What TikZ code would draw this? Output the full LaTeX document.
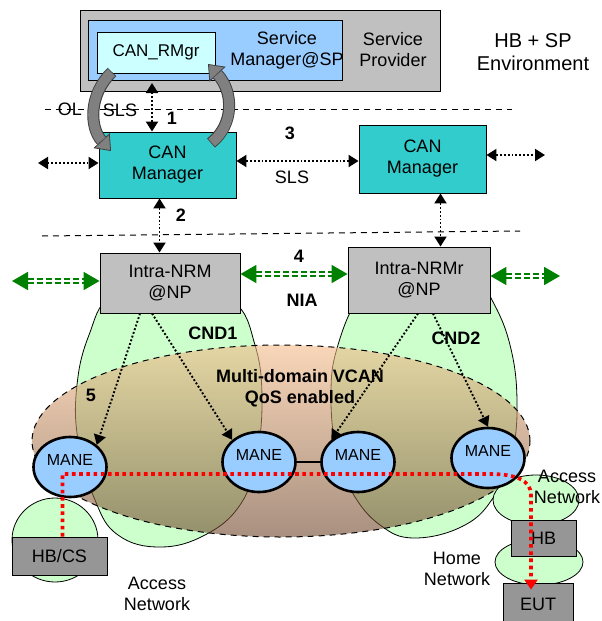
\documentclass[tikz,border=0pt]{standalone}
\usepackage{fontspec}
\setmainfont{Liberation Sans}
\usetikzlibrary{arrows.meta,shapes.geometric}

\definecolor{spgray}{HTML}{C0C0C0}
\definecolor{smblue}{HTML}{99CCFF}
\definecolor{rmcyan}{HTML}{CCFFFF}
\definecolor{canteal}{HTML}{33CCCC}
\definecolor{hbgray}{HTML}{969696}
\definecolor{cndgreen}{HTML}{CCFFCC}
\definecolor{niagreen}{HTML}{008000}
\definecolor{vcantop}{HTML}{F5BB89}
\definecolor{vcanbot}{HTML}{6E462B}

\begin{document}
\begin{tikzpicture}[x=1pt, y=-1pt, font=\fontsize{18}{21}\selectfont,
    box/.style={draw, align=center, inner sep=0pt, line width=0.9pt},
    mane/.style={ellipse, draw, line width=2.6pt, fill=smblue, inner sep=0pt, text depth=14pt,
      minimum width=73pt, minimum height=60pt, font=\fontsize{16}{18}\selectfont},
    tag/.style={font=\fontsize{18}{21}\selectfont\bfseries},
    sig/.style={line width=1.9pt, dash pattern=on 1.9pt off 2pt,
      {Triangle[length=10pt,width=12pt]}-{Triangle[length=10pt,width=12pt]}},
    nia/.style={draw=niagreen, line width=1.8pt, dash pattern=on 6pt off 3pt, double=white,
      double distance=2pt, {Triangle[length=16pt,width=18pt]}-{Triangle[length=16pt,width=18pt]}},
    sepline/.style={line width=1pt, dash pattern=on 6pt off 5pt},
    cnd/.style={draw, fill=cndgreen, line width=0.8pt},
    swirl/.style={line width=12pt, draw=black!75,
      -{Triangle[length=14pt,width=22pt,line width=0.8pt,fill=gray]}},
    redpath/.style={red, line width=3.6pt, dash pattern=on 3.6pt off 3.6pt}]
  \useasboundingbox (0,0) rectangle (602,621);

  % domains
  \draw[cnd] plot[smooth cycle, tension=0.7] coordinates {(170,275) (232,300) (255,345) (262,400)
    (256,460) (240,505) (205,535) (160,547) (118,535) (95,500) (78,440) (77,385) (89,335) (112,295)};
  \draw[cnd] plot[smooth cycle, tension=0.7] coordinates {(420,258) (470,270) (492,300) (510,345)
    (517,400) (512,455) (495,495) (465,525) (415,538) (380,525) (352,492) (336,450) (331,390)
    (338,345) (358,298) (385,270)};
  \draw[sepline, top color=vcantop, bottom color=vcanbot, fill opacity=0.6]
    (281,441) ellipse [x radius=249pt, y radius=96pt];
  \draw[cnd] (55,540) ellipse [x radius=43pt, y radius=42pt];
  \draw[cnd] (536,500) ellipse [x radius=43pt, y radius=25pt];
  \draw[cnd] (539,562) ellipse [x radius=44pt, y radius=23pt];

  % boxes
  \node[box, fill=spgray, minimum width=360pt, minimum height=81pt] (sp) at (260,50.5) {};
  \node[box, fill=smblue, minimum width=254pt, minimum height=60pt] (smgr) at (215,50) {};
  \node[box, fill=rmcyan, minimum width=118pt, minimum height=41pt,
    font=\fontsize{17}{20}\selectfont] (rmgr) at (156,52.5) {CAN\_RMgr};
  \node[align=center] (smtext) at (287,50) {Service\\Manager@SP};
  \node[align=center] (sptext) at (393,50) {Service\\Provider};
  \node[align=center, font=\fontsize{20}{23}\selectfont] (env) at (533,52) {HB + SP\\Environment};
  \node[box, fill=canteal, minimum width=137pt, minimum height=66pt] (canl) at (167.5,165) {CAN\\Manager};
  \node[box, fill=canteal, minimum width=127pt, minimum height=68pt] (canr) at (422.5,159) {CAN\\Manager};
  \node[box, fill=spgray, minimum width=140pt, minimum height=60pt] (nrml) at (170,283) {Intra-NRM\\@NP};
  \node[box, fill=spgray, minimum width=142pt, minimum height=66pt] (nrmr) at (419,280) {Intra-NRMr\\@NP};
  \node[box, fill=hbgray, minimum width=95pt, minimum height=38pt] (hbcs) at (59.5,556) {HB/CS};
  \node[box, fill=hbgray, minimum width=65pt, minimum height=36pt] (hb) at (543.5,538) {HB};
  \node[box, fill=hbgray, minimum width=70pt, minimum height=42pt] (eut) at (538,604) {EUT};

  % separators
  \coordinate (ol1) at (45,109);
  \coordinate (ol2) at (512,109);
  \coordinate (ni1) at (42,236);
  \coordinate (ni2) at (520,231);
  \draw[sepline] (ol1) -- (ol2);
  \draw[sepline] (ni1) -- (ni2);
  \node (ol) at (70,109) {OL};
  \node (olsls) at (120,110) {SLS};

  % swirls between CAN_RMgr and CAN Manager
  \draw[swirl] (112,72) .. controls (88,95) and (90,128) .. (111,151);
  \draw[line width=10pt, gray, shorten >=14pt, shorten <=0.8pt] (112,72) .. controls (88,95) and (90,128) .. (111,151);
  \draw[swirl] (211,143) .. controls (234,125) and (234,92) .. (208,64);
  \draw[line width=10pt, gray, shorten >=14pt, shorten <=0.8pt] (211,143) .. controls (234,125) and (234,92) .. (208,64);

  % signalling
  \coordinate (top1) at (152,83);
  \coordinate (lout) at (38,163);
  \coordinate (rout) at (545,155);
  \draw[sig] (top1) -- (top1 |- canl.north);
  \draw[sig] (lout) -- (lout -| canl.west);
  \draw[sig] (rout -| canr.east) -- (rout);
  \draw[sig] ([yshift=-2pt]canr.west -| canl.east) -- ([yshift=-2pt]canr.west);
  \draw[sig] ([xshift=-8pt]canl.south) -- ([xshift=-8pt]canl.south |- nrml.north);
  \draw[sig] ([xshift=18pt]canr.south) -- ([xshift=18pt]canr.south |- nrmr.north);
  \node[tag] (n1) at (172,118) {1};
  \node[tag] (n2) at (181,215) {2};
  \node[tag] (n3) at (290,133) {3};
  \node (sls) at (292,177) {SLS};

  % NIA
  \coordinate (gl) at (12,281);
  \coordinate (gr) at (560,276);
  \draw[nia] (gl) -- (gl -| nrml.west);
  \draw[nia] ([yshift=9pt]nrml.east) -- ([yshift=9pt]nrml.east -| nrmr.west);
  \draw[nia] ([yshift=4pt]nrmr.east) -- ([yshift=4pt]nrmr.east -| gr);
  \node[tag] (n4) at (299,256) {4};
  \node[tag] (nia) at (302,300) {NIA};

  % MANEs
  \node[mane] (m1) at (70,467) {MANE};
  \node[mane] (m2) at (259,462) {MANE};
  \node[mane] (m3) at (358,462) {MANE};
  \node[mane] (m4) at (488,458) {MANE};
  \draw[line width=2.6pt] (m2) -- (m3);
  \draw[sig, {}-{Triangle[length=10pt,width=12pt]}] ([xshift=-30pt]nrml.south) -- (m1.north east);
  \draw[sig, {}-{Triangle[length=10pt,width=12pt]}] ([xshift=-18pt]nrml.south) -- (m2.north west);
  \draw[sig, {}-{Triangle[length=10pt,width=12pt]}] ([xshift=-1pt]nrmr.south) -- (m3.north west);
  \draw[sig, {}-{Triangle[length=10pt,width=12pt]}] ([xshift=14pt]nrmr.south) -- (m4.north);
  \node[tag] (n5) at (91,395) {5};
  \node[tag] (cnd1) at (213,333) {CND1};
  \node[tag] (cnd2) at (456,338) {CND2};
  \node[tag, align=center] (vcan) at (300,388) {Multi-domain VCAN\\QoS enabled};

  % end to end path
  \coordinate (rbend) at (490,474);
  \coordinate (rdrop) at (531,495);
  \draw[redpath, -{Triangle[length=10pt,width=13pt]}, shorten >=-7pt] ([xshift=3pt]hbcs.north)
    -- ([xshift=3pt]hbcs.north |- rbend) -- (rbend) .. controls (515,474) and (531,480) .. (rdrop)
    -- (rdrop |- eut.north);

  \node[align=center] (accl) at (157,594) {Access\\Network};
  \node[align=center] (accr) at (567,487) {Access\\Network};
  \node[align=center] (home) at (457,569) {Home\\Network};
\end{tikzpicture}
\end{document}
